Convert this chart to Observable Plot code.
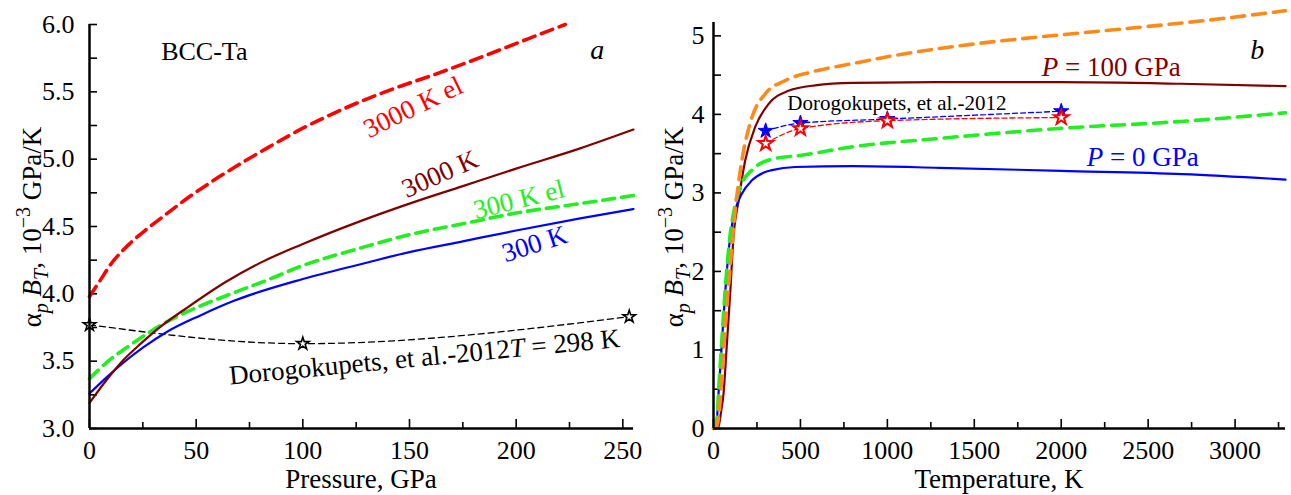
<!DOCTYPE html>
<html><head><meta charset="utf-8">
<script src="https://cdn.jsdelivr.net/npm/d3@7"></script>
<script src="https://cdn.jsdelivr.net/npm/@observablehq/plot@0.6"></script>
<style>
html,body{margin:0;padding:0;background:#fff;}
#wrap{position:relative;width:1291px;height:495px;overflow:hidden;background:#fff;}
#wrap svg{position:absolute;top:0;overflow:visible;}
#wrap svg text, #wrap svg tspan{font-family:"Liberation Serif", "Times New Roman", Times, serif;}
</style></head><body><div id="wrap"></div>
<script>
// ---------- Panel a: alpha_p*B_T vs pressure (GPa) ----------
const pressure300K    = [0, 8, 16, 25, 36, 52, 68, 100, 127, 150, 175, 200, 230, 255];
const alphaB300K      = [3.26, 3.38, 3.49, 3.60, 3.715, 3.84, 3.95, 4.11, 4.22, 4.31, 4.39, 4.47, 4.56, 4.63];
const pressure300Kel  = [0, 8, 20, 36, 52, 68, 83, 100, 127, 150, 175, 200, 230, 255];
const alphaB300Kel    = [3.37, 3.49, 3.63, 3.79, 3.91, 4.01, 4.10, 4.21, 4.34, 4.44, 4.52, 4.60, 4.67, 4.73];
const pressure3000K   = [0, 8, 16, 24, 32, 46, 64, 80, 100, 127, 150, 175, 200, 230, 255];
const alphaB3000K     = [3.19, 3.36, 3.51, 3.63, 3.74, 3.90, 4.09, 4.23, 4.37, 4.54, 4.67, 4.80, 4.93, 5.08, 5.22];
const pressure3000Kel = [0, 5, 10, 18, 26, 35, 45, 56, 68, 83, 100, 120, 142, 162, 184, 205, 223];
const alphaB3000Kel   = [3.98, 4.10, 4.22, 4.36, 4.47, 4.58, 4.70, 4.82, 4.94, 5.08, 5.23, 5.38, 5.52, 5.63, 5.76, 5.89, 6.00];
const pressureDoro    = [0, 100, 253];
const alphaBDoro      = [3.77, 3.63, 3.83];
const pressureTicks   = [0, 25, 50, 75, 100, 125, 150, 175, 200, 225, 250];
const pressureLabels  = [0, 50, 100, 150, 200, 250];
const alphaTicksA     = [3, 3.25, 3.5, 3.75, 4, 4.25, 4.5, 4.75, 5, 5.25, 5.5, 5.75, 6];
const alphaLabelsA    = [3, 3.5, 4, 4.5, 5, 5.5, 6];

// ---------- Panel b: alpha_p*B_T vs temperature (K) ----------
const tempP0      = [0, 10, 20, 29, 48, 67, 96, 125, 163, 221, 290, 336, 470, 800, 1300, 2000, 2700, 3290];
const alphaBP0    = [0, 0.01, 0.12, 0.45, 1.08, 1.72, 2.44, 2.78, 2.99, 3.16, 3.26, 3.29, 3.33, 3.34, 3.32, 3.28, 3.24, 3.17];
const tempP0el    = [0, 10, 20, 29, 48, 67, 96, 125, 163, 221, 336, 508, 807, 1278, 1984, 2689, 3290];
const alphaBP0el  = [0, 0.01, 0.12, 0.47, 1.12, 1.76, 2.47, 2.85, 3.12, 3.29, 3.43, 3.48, 3.59, 3.69, 3.82, 3.91, 4.02];
const tempP100    = [0, 15, 28, 44, 58, 77, 96, 115, 144, 182, 240, 316, 431, 585, 800, 1278, 1984, 2689, 3290];
const alphaBP100  = [0, 0, 0.02, 0.22, 0.45, 1.08, 1.72, 2.44, 2.90, 3.41, 3.84, 4.13, 4.30, 4.37, 4.40, 4.41, 4.41, 4.39, 4.36];
const tempP100el  = [0, 15, 32, 48, 67, 96, 125, 163, 221, 297, 412, 566, 807, 1042, 1513, 1984, 2454, 2925, 3290];
const alphaBP100el= [0, 0.01, 0.2, 0.66, 1.29, 2.06, 2.78, 3.41, 3.96, 4.26, 4.43, 4.54, 4.65, 4.75, 4.90, 5.01, 5.11, 5.22, 5.32];
const tempDoro    = [300, 500, 1000, 2000];
const alphaBDoroBlue = [3.79, 3.89, 3.94, 4.04];
const alphaBDoroRed  = [3.63, 3.82, 3.92, 3.96];
const tempTicks   = [0, 250, 500, 750, 1000, 1250, 1500, 1750, 2000, 2250, 2500, 2750, 3000, 3250];
const tempLabels  = [0, 500, 1000, 1500, 2000, 2500, 3000];
const alphaTicksB = [0, 0.5, 1, 1.5, 2, 2.5, 3, 3.5, 4, 4.5, 5];
const alphaLabelsB= [0, 1, 2, 3, 4, 5];

const rows = (xs, ys) => xs.map((x, i) => ({x, y: ys[i]}));
const FONT = "Liberation Serif";
const style = {fontFamily: FONT, fontSize: "26px", background: "transparent", overflow: "visible", color: "black"};

const C = {blue: "#0000ff", green: "#22ee22", brown: "#800000", red: "#ff0000", orange: "#ff8a1c", black: "#000"};
const T = {fontFamily: FONT};

function axes(xTicks, xLabels, yTicks, yLabels, xPad, yPad, yFmt) {
  return [
    Plot.axisX(xTicks.filter(d => !xLabels.includes(d)), {tickSize: -6, tickPadding: 30, tickFormat: () => "", label: null, strokeWidth: 1.6}),
    Plot.axisX(xLabels, {tickSize: -9, tickPadding: xPad, tickFormat: d => String(d), label: null, strokeWidth: 1.6, fontSize: 26, fontFamily: FONT}),
    Plot.axisY(yTicks.filter(d => !yLabels.includes(d)), {tickSize: -8, tickPadding: 30, tickFormat: () => "", label: null, strokeWidth: 1.6}),
    Plot.axisY(yLabels, {tickSize: -8, tickPadding: yPad, tickFormat: yFmt, label: null, strokeWidth: 1.6, fontSize: 26, fontFamily: FONT})
  ];
}

const plotA = Plot.plot({
  width: 645, height: 495,
  marginLeft: 89, marginRight: 12, marginTop: 24, marginBottom: 67,
  x: {domain: [0, 255]}, y: {domain: [3, 6]},
  style,
  marks: [
    ...axes(pressureTicks, pressureLabels, alphaTicksA, alphaLabelsA, 21, 23, d => d.toFixed(1)),
    Plot.line(rows(pressureDoro, alphaBDoro), {x: "x", y: "y", stroke: C.black, strokeWidth: 1.3, strokeDasharray: "6,4", curve: "monotone-x"}),
    Plot.line(rows(pressure300K, alphaB300K), {x: "x", y: "y", stroke: C.blue, strokeWidth: 2.2, curve: "monotone-x"}),
    Plot.line(rows(pressure300Kel, alphaB300Kel), {x: "x", y: "y", stroke: C.green, strokeWidth: 3.6, strokeDasharray: "12,7", curve: "monotone-x"}),
    Plot.line(rows(pressure3000K, alphaB3000K), {x: "x", y: "y", stroke: C.brown, strokeWidth: 2.2, curve: "monotone-x"}),
    Plot.line(rows(pressure3000Kel, alphaB3000Kel), {x: "x", y: "y", stroke: C.red, strokeWidth: 3.6, strokeDasharray: "12,7", curve: "monotone-x"}),
    Plot.dot(rows(pressureDoro, alphaBDoro), {x: "x", y: "y", symbol: "star", r: 3.9, fill: "white", stroke: C.black, strokeWidth: 1.6}),
    Plot.ruleX([0], {stroke: "black", strokeWidth: 2.5}),
    Plot.ruleY([3], {stroke: "black", strokeWidth: 2.5}),
    Plot.text(["BCC-Ta"], {...T, x: 53.8, y: 5.80, text: d => d, fontSize: 26, fill: "black"}),
    Plot.text(["a"], {...T, x: 238, y: 5.81, text: d => d, fontSize: 28, fontStyle: "italic", fill: "black"}),
    Plot.text(["3000 K el"], {...T, x: 151.7, y: 5.385, text: d => d, fontSize: 27, fill: C.red, rotate: -26}),
    Plot.text(["3000 K"], {...T, x: 164.3, y: 4.89, text: d => d, fontSize: 27, fill: C.brown, rotate: -24}),
    Plot.text(["300 K el"], {...T, x: 201.3, y: 4.70, text: d => d, fontSize: 27, fill: C.green, rotate: -14}),
    Plot.text(["300 K"], {...T, x: 208.6, y: 4.37, text: d => d, fontSize: 27, fill: C.blue, rotate: -18}),
    Plot.text(["Dorogokupets, et al.-2012T = 298 K"], {...T, x: 157, y: 3.53, text: d => d, fontSize: 27, fill: "black", rotate: -5.5})
  ]
});

const plotB = Plot.plot({
  width: 646, height: 495,
  marginLeft: 68, marginRight: 6, marginTop: 22, marginBottom: 67,
  x: {domain: [0, 3290]}, y: {domain: [0, 5.17]},
  style,
  marks: [
    ...axes(tempTicks, tempLabels, alphaTicksB, alphaLabelsB, 21, 17, d => String(d)),
    Plot.line(rows(tempP100, alphaBP100), {x: "x", y: "y", stroke: C.brown, strokeWidth: 2.2, curve: "monotone-x"}),
    Plot.line(rows(tempP0, alphaBP0), {x: "x", y: "y", stroke: C.blue, strokeWidth: 2.2, curve: "monotone-x"}),
    Plot.line(rows(tempP0el, alphaBP0el), {x: "x", y: "y", stroke: C.green, strokeWidth: 3.6, strokeDasharray: "13,8", curve: "monotone-x"}),
    Plot.line(rows(tempP100el, alphaBP100el), {x: "x", y: "y", stroke: C.orange, strokeWidth: 3.6, strokeDasharray: "13,8", curve: "monotone-x"}),
    Plot.line(rows(tempDoro, alphaBDoroBlue), {x: "x", y: "y", stroke: C.blue, strokeWidth: 1.3, strokeDasharray: "5,3", curve: "monotone-x"}),
    Plot.line(rows(tempDoro, alphaBDoroRed), {x: "x", y: "y", stroke: C.red, strokeWidth: 1.3, strokeDasharray: "5,3", curve: "monotone-x"}),
    Plot.dot(rows(tempDoro, alphaBDoroBlue), {x: "x", y: "y", symbol: "star", r: 4.8, fill: C.blue, stroke: C.blue, strokeWidth: 1}),
    Plot.dot(rows(tempDoro, alphaBDoroRed), {x: "x", y: "y", symbol: "star", r: 4.6, fill: "white", stroke: C.red, strokeWidth: 2}),
    Plot.ruleX([0], {stroke: "black", strokeWidth: 2.5}),
    Plot.ruleY([0], {stroke: "black", strokeWidth: 2.5}),
    Plot.text(["P = 100 GPa"], {...T, x: 2288, y: 4.60, text: d => d, fontSize: 27, fill: C.brown}),
    Plot.text(["P = 0 GPa"], {...T, x: 2469, y: 3.455, text: d => d, fontSize: 27, fill: C.blue}),
    Plot.text(["b"], {...T, x: 3127, y: 4.82, text: d => d, fontSize: 28, fontStyle: "italic", fill: "black"}),
    Plot.text(["Dorogokupets, et al.-2012"], {...T, x: 1055, y: 4.14, text: d => d, fontSize: 21, fill: "black"})
  ]
});

const NS = "http://www.w3.org/2000/svg";
function splitText(t, parts) {
  t.textContent = "";
  for (const [str, it] of parts) {
    const ts = document.createElementNS(NS, "tspan");
    ts.textContent = str;
    if (it) ts.setAttribute("font-style", "italic");
    t.appendChild(ts);
  }
}
function italics(svg) {
  svg.querySelectorAll("text").forEach(t => {
    const s = t.textContent;
    let m;
    if (/^P = /.test(s)) splitText(t, [["P", true], [s.slice(1), false]]);
    else if ((m = s.match(/^(.*2012)(T)( = 298 K)$/))) splitText(t, [[m[1], false], [m[2], true], [m[3], false]]);
  });
}
function yLabel(svg, x, y) {
  const t = d3.select(svg).append("text")
    .attr("transform", `translate(${x},${y}) rotate(-90)`)
    .attr("text-anchor", "middle").attr("font-size", 27).attr("fill", "black");
  t.append("tspan").text("α");
  t.append("tspan").attr("font-style", "italic").attr("font-size", 20).attr("dy", 7).text("p");
  t.append("tspan").attr("dy", -7).text(" ");
  t.append("tspan").attr("font-style", "italic").text("B");
  t.append("tspan").attr("font-style", "italic").attr("font-size", 20).attr("dy", 7).text("T");
  t.append("tspan").attr("dy", -7).text(", 10");
  t.append("tspan").attr("font-size", 20).attr("dy", -11).text("−3");
  t.append("tspan").attr("dy", 11).text(" GPa/K");
}
function xLabel(svg, x, y, s) {
  d3.select(svg).append("text").attr("x", x).attr("y", y)
    .attr("text-anchor", "middle").attr("font-size", 27).attr("fill", "black").text(s);
}

italics(plotA); italics(plotB);
yLabel(plotA, 41, 227);
yLabel(plotB, 683 - 645, 227);
xLabel(plotA, 361, 488, "Pressure, GPa");
xLabel(plotB, 999 - 645, 488, "Temperature, K");

for (const svg of [plotA, plotB]) {
  d3.select(svg).attr("font-family", FONT).style("font-family", FONT);
  d3.select(svg).selectAll("text").attr("font-family", FONT);
}

plotA.style.left = "0px";
plotB.style.left = "645px";
const wrap = document.getElementById("wrap");
wrap.appendChild(plotA);
wrap.appendChild(plotB);
</script></body></html>
